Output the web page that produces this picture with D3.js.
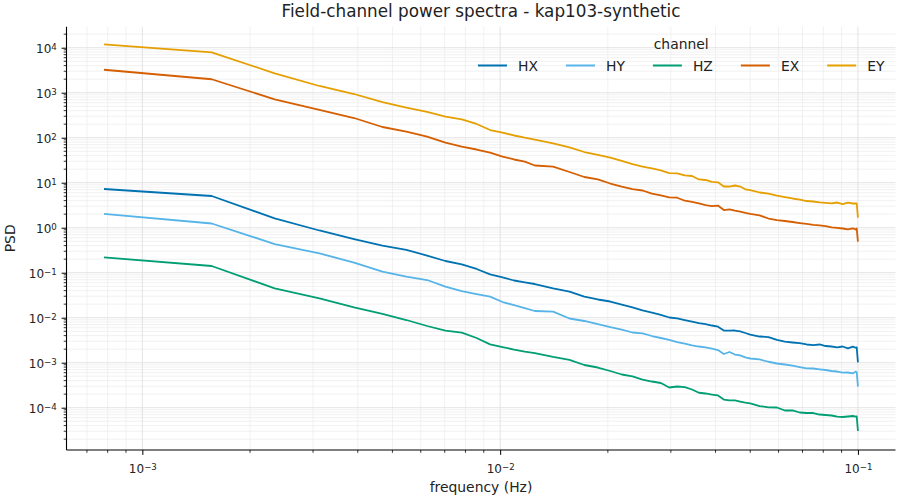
<!DOCTYPE html>
<html>
<head>
<meta charset="utf-8">
<script src="https://cdn.jsdelivr.net/npm/d3@7"></script>
<style>
  body { margin: 0; background: #fff; }
  svg { font-family: "DejaVu Sans", sans-serif; }
</style>
</head>
<body>
<div class="container"></div>
<script>
const wd = 900
const ht = 500

// frequency bins (Hz)
const freqs = [0.00078125, 0.0015625, 0.00234375, 0.003125, 0.00390625, 0.0046875, 0.00546875, 0.00625,
  0.00703125, 0.0078125, 0.00859375, 0.009375, 0.01015625, 0.0109375, 0.01171875, 0.0125,
  0.0140625, 0.015625, 0.0171875, 0.01875, 0.0203125, 0.021875, 0.0234375, 0.025,
  0.0265625, 0.028125, 0.0296875, 0.03125, 0.0328125, 0.034375, 0.0359375, 0.0375,
  0.0390625, 0.040625, 0.0421875, 0.04375, 0.0453125, 0.046875, 0.0484375, 0.05,
  0.053125, 0.05625, 0.059375, 0.0625, 0.065625, 0.06875, 0.071875, 0.075,
  0.078125, 0.08125, 0.084375, 0.0875, 0.090625, 0.09375, 0.096875, 0.0984375, 0.09921875, 0.1]

const hx = [7.24, 5.06, 1.62, 0.867, 0.561, 0.402, 0.320, 0.241,
  0.182, 0.154, 0.121, 0.0921, 0.0790, 0.0671, 0.0612, 0.0561,
  0.0446, 0.0378, 0.0293, 0.0254, 0.0229, 0.0196, 0.0169, 0.0145,
  0.0129, 0.0115, 0.0101, 0.0097, 0.00889, 0.00823, 0.00762, 0.00724,
  0.00671, 0.00631, 0.00519, 0.00514, 0.00519, 0.00494, 0.00457, 0.00423,
  0.00382, 0.00372, 0.00320, 0.00293, 0.00281, 0.00271, 0.00254, 0.00247,
  0.00254, 0.00235, 0.00229, 0.00218, 0.00229, 0.00209, 0.00227, 0.00215, 0.00218, 0.00102]

const hy = [2.02, 1.24, 0.434, 0.270, 0.168, 0.106, 0.0823, 0.0688,
  0.0489, 0.0392, 0.0336, 0.0293, 0.0223, 0.0191, 0.0164, 0.0141,
  0.0136, 0.0096, 0.00845, 0.00724, 0.00621, 0.00541, 0.00469, 0.00450,
  0.00392, 0.00354, 0.00320, 0.00288, 0.00267, 0.00244, 0.00229, 0.00218,
  0.00205, 0.00191, 0.00156, 0.00173, 0.00152, 0.00145, 0.00131, 0.00124,
  0.00118, 0.00105, 0.00096, 0.000912, 0.000858, 0.000802, 0.000751, 0.000743,
  0.000713, 0.000688, 0.000654, 0.000637, 0.000599, 0.000606, 0.000581, 0.000631, 0.000621, 0.000293]

const hz = [0.220, 0.141, 0.0450, 0.0270, 0.0169, 0.0121, 0.00889, 0.00654,
  0.00514, 0.00464, 0.00354, 0.00256, 0.00223, 0.00196, 0.00177, 0.00164,
  0.00134, 0.00115, 0.000889, 0.000782, 0.000654, 0.000547, 0.000494, 0.000423,
  0.000382, 0.000354, 0.000281, 0.000296, 0.000288, 0.000254, 0.000215, 0.000207,
  0.000196, 0.000187, 0.000152, 0.000146, 0.000146, 0.000137, 0.000129, 0.000125,
  0.000109, 0.000102, 0.000101, 0.0000867, 0.0000876, 0.0000782, 0.0000762, 0.0000762,
  0.0000706, 0.0000688, 0.0000671, 0.0000631, 0.0000621, 0.0000637, 0.0000654, 0.0000637, 0.0000637, 0.0000303]

const ex = [3240, 1990, 713, 413, 274, 173, 137, 106,
  77.4, 63.1, 54.7, 46.4, 38.2, 32.8, 29.3, 24.1,
  22.7, 17.3, 13.4, 11.8, 9.60, 8.23, 7.24, 6.71,
  5.75, 5.25, 4.74, 4.64, 3.98, 3.73, 3.48, 3.19,
  3.03, 3.11, 2.47, 2.56, 2.41, 2.29, 2.14, 2.02,
  1.87, 1.60, 1.48, 1.41, 1.34, 1.27, 1.21, 1.16,
  1.13, 1.09, 1.02, 0.995, 0.960, 0.921, 0.970, 0.912, 0.960, 0.489]

const ey = [11900, 7900, 2700, 1410, 936, 621, 469, 373,
  293, 256, 202, 148, 130, 112, 100, 91.2,
  75.1, 61.2, 48.1, 41.3, 36.3, 30.4, 26.0, 22.9,
  20.9, 18.7, 16.4, 16.2, 14.5, 14.1, 11.8, 11.5,
  10.4, 10.2, 8.23, 8.23, 8.67, 8.23, 7.13, 6.88,
  6.06, 5.75, 5.19, 4.81, 4.46, 4.23, 3.92, 3.82,
  3.67, 3.58, 3.48, 3.63, 3.36, 3.59, 3.45, 3.48, 3.45, 1.67]

const channels = ["HX", "HY", "HZ", "EX", "EY"]
const series = [hx, hy, hz, ex, ey]
const colors = ["#0072B2", "#56B4E9", "#009E73", "#D55E00", "#E69F00"]

const xMajor = [1e-3, 1e-2, 1e-1]
const yMajor = [1e-4, 1e-3, 1e-2, 1e-1, 1e0, 1e1, 1e2, 1e3, 1e4]
const xExp = ["\u22123", "\u22122", "\u22121"]
const yExp = ["\u22124", "\u22123", "\u22122", "\u22121", "0", "1", "2", "3", "4"]

const m = {left: 66.5, right: 895.5, top: 26.7, bottom: 450}

const svgC = d3.select(".container")
.append("svg")
.attr("width", wd)
.attr("height", ht)

svgC.append("rect").attr("width", wd).attr("height", ht).attr("fill", "#fff")

const xScale = d3.scaleLog()
.domain([Math.pow(10, -3.212), Math.pow(10, -0.895)])
.range([m.left, m.right])

const yScale = d3.scaleLog()
.domain([Math.pow(10, -4.94), Math.pow(10, 4.467)])
.range([m.bottom, m.top])

// minor ticks 2..9 per decade inside the domain
const minorOf = (scale) => {
  const [a, b] = scale.domain()
  const out = []
  for (let e = Math.floor(Math.log10(a)); e <= Math.ceil(Math.log10(b)); e++) {
    for (let k = 2; k <= 9; k++) {
      const v = k * Math.pow(10, e)
      if (v >= a && v <= b) out.push(v)
    }
  }
  return out
}
const xMinor = minorOf(xScale)
const yMinor = minorOf(yScale)

// grid
const grid = svgC.append("g")
grid.selectAll(".gxm").data(xMinor).join("line")
.attr("x1", d => xScale(d)).attr("x2", d => xScale(d))
.attr("y1", m.top).attr("y2", m.bottom)
.attr("stroke", "#ebebeb").attr("stroke-width", 0.7)
grid.selectAll(".gym").data(yMinor).join("line")
.attr("y1", d => yScale(d)).attr("y2", d => yScale(d))
.attr("x1", m.left).attr("x2", m.right)
.attr("stroke", "#ebebeb").attr("stroke-width", 0.7)
grid.selectAll(".gx").data(xMajor).join("line")
.attr("x1", d => xScale(d)).attr("x2", d => xScale(d))
.attr("y1", m.top).attr("y2", m.bottom)
.attr("stroke", "#dcdcdc").attr("stroke-width", 0.8)
grid.selectAll(".gy").data(yMajor).join("line")
.attr("y1", d => yScale(d)).attr("y2", d => yScale(d))
.attr("x1", m.left).attr("x2", m.right)
.attr("stroke", "#dcdcdc").attr("stroke-width", 0.8)

// lines
const lineObj = d3.line()
.x(d => xScale(d[0]))
.y(d => yScale(d[1]))

series.forEach((vals, i) => {
  svgC.append("path")
  .attr("d", lineObj(freqs.map((f, j) => [f, vals[j]])))
  .attr("fill", "none")
  .attr("stroke", colors[i])
  .attr("stroke-width", 1.8)
  .attr("stroke-linejoin", "round")
})

// axes
const fs = 12
const supLabel = (sel, exps) => {
  sel.each(function(d, i) {
    const t = d3.select(this).text(null)
    t.append("tspan").text("10")
    t.append("tspan").attr("dy", "-0.42em").attr("font-size", "0.72em").text(exps[i])
  })
}

const xAx = svgC.append("g")
.attr("transform", `translate(0,${m.bottom})`)
.call(d3.axisBottom(xScale).tickValues(xMajor).tickSize(4.9).tickPadding(4.5).tickFormat(""))
xAx.selectAll(".tick text").attr("font-size", fs).attr("font-family", "DejaVu Sans").attr("fill", "#222").attr("dy", "1.15em")
supLabel(xAx.selectAll(".tick text"), xExp)
xAx.append("g").selectAll("line").data(xMinor).join("line")
.attr("x1", d => xScale(d)).attr("x2", d => xScale(d)).attr("y1", 0).attr("y2", 2.8)
.attr("stroke", "#000").attr("stroke-width", 0.8)

const yAx = svgC.append("g")
.attr("transform", `translate(${m.left},0)`)
.call(d3.axisLeft(yScale).tickValues(yMajor).tickSize(4.9).tickPadding(4.8).tickFormat(""))
yAx.selectAll(".tick text").attr("font-size", fs).attr("font-family", "DejaVu Sans").attr("fill", "#222").attr("dy", "0.42em")
supLabel(yAx.selectAll(".tick text"), yExp)
yAx.append("g").selectAll("line").data(yMinor).join("line")
.attr("y1", d => yScale(d)).attr("y2", d => yScale(d)).attr("x1", 0).attr("x2", -2.8)
.attr("stroke", "#000").attr("stroke-width", 0.8)

svgC.selectAll(".domain").attr("stroke", "#000").attr("stroke-width", 1.1)
svgC.selectAll(".tick line").attr("stroke", "#000").attr("stroke-width", 1)
// spine only across plot extent
xAx.select(".domain").attr("d", `M${m.left},0H${m.right}`)
yAx.select(".domain").attr("d", `M0,${m.bottom}V${m.top}`)

// labels
const mid = (m.left + m.right) / 2
svgC.append("text").attr("x", mid).attr("y", 17)
.attr("text-anchor", "middle").attr("font-size", 16.8).attr("fill", "#222")
.text("Field-channel power spectra - kap103-synthetic")
svgC.append("text").attr("x", mid).attr("y", 492)
.attr("text-anchor", "middle").attr("font-size", 13.9).attr("fill", "#222")
.text("frequency (Hz)")
svgC.append("text")
.attr("transform", `translate(15,${(m.top + m.bottom) / 2}) rotate(-90)`)
.attr("text-anchor", "middle").attr("font-size", 13.9).attr("fill", "#222")
.text("PSD")

// legend
const leg = svgC.append("g")
let lx = 478
channels.forEach((c, i) => {
  leg.append("line")
  .attr("x1", lx).attr("x2", lx + 29).attr("y1", 65.5).attr("y2", 65.5)
  .attr("stroke", colors[i]).attr("stroke-width", 2)
  const t = leg.append("text").attr("x", lx + 40).attr("y", 70.5)
  .attr("font-size", 13.9).attr("fill", "#222").text(c)
  lx += 40 + t.node().getComputedTextLength() + 28
})
svgC.append("text").attr("x", (478 + lx - 28) / 2).attr("y", 49)
.attr("text-anchor", "middle").attr("font-size", 13.9).attr("fill", "#222")
.text("channel")
</script>
</body>
</html>
